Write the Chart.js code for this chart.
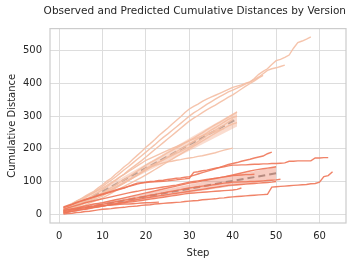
<!DOCTYPE html>
<html>
<head>
<meta charset="utf-8">
<title>Cumulative Distances by Version</title>
<script src="https://cdn.jsdelivr.net/npm/chart.js@4/dist/chart.umd.min.js"></script>
<style>
  body { margin: 0; background: #fff; }
  #wrap { width: 357px; height: 265px; }
</style>
</head>
<body>
<div id="wrap"><canvas id="myChart" width="357" height="265"></canvas></div>
<script>
// ******* DATA ******************
// every run starts at step 1, one value per step

// version A (light lines, the steeper ones)
let runA1 = [18,24,31,40,46,55,63,70,81,90, 101,110,122,133,145,155,168,180,192,205, 216,228,241,252,263,275,287,298,311,322, 330,337,345,352,358,364,370,376,382,388, 392,396,401,405,415,428,437,445,458,470, 474,480,487,508,525,530,536,543];
let runA2 = [12,19,27,34,42,50,58,66,76,85, 95,104,114,125,136,146,157,168,179,190, 201,212,224,235,245,256,267,278,289,300, 310,318,327,336,344,352,360,367,374,380, 386,392,399,405,412,420,430,440,445,448, 452,456];
let runA3 = [10,16,22,29,36,44,51,59,67,75, 84,94,103,113,123,134,144,154,164,175, 186,197,208,219,230,241,252,263,274,285, 294,302,311,319,327,334,342,350,358,365, 374,383,392,400,408,417,425];
let runA4 = [8,14,20,26,33,39,46,52,59,65, 73,81,89,98,106,114,123,132,141,150, 158,165,172,180,188,195,203,210,218,225, 233,241,249,258,266,274,281,289,297,305, 312];
let runA5 = [5,11,17,22,28,34,39,45,50,56, 64,72,80,87,95,103,111,119,127,135, 143,151,159,167,175,183,191,199,207,215, 223,231,240,248,257,265,273,282,290,296, 300];
let runA6 = [12,17,22,28,33,39,44,49,55,60, 68,75,83,90,98,105,113,120,130,140, 147,153,160,166,173,179,186,192,199,205, 213,222,231,240,249,257,265,273,282,290];
let runA7 = [3,8,13,18,23,28,34,39,44,50, 57,64,71,78,85,92,99,106,113,120, 128,136,144,152,160,168,176,184,192,200, 208,216,224,232,240,248,256,263,270,276, 280];
let runA8 = [10,15,20,26,31,37,43,49,55,61, 68,75,82,89,96,104,112,120,128,137, 144,149,153,157,160,162,165,167,170,172, 174,177,179,182,185,188,192,196,199,202];
let runA9 = [20,26,33,40,47,53,60,66,73,80, 88,97,105,114,122,131,139,148,156,165, 171,177,183,189,195,201,207,213,219,225, 230,235,240,245,249,253,258,262];

// version B (darker lines, the flatter ones)
let runB1 = [20,24,29,35,40,44,48,52,56,60, 64,68,72,76,80,85,90,95,96,97, 98,99,100,101,102,104,105,107,108,110, 128,130,133,135,138,141,143,145,148,150, 150,151,151,152,153,153,154,154,155,155, 156,157,162,162,163,163,163,163,172,172, 173,173];
let runB2 = [0,2,3,5,6,8,9,11,13,15, 16,17,19,20,21,23,24,25,27,28, 29,31,32,33,34,35,36,37,39,40, 41,42,44,45,46,47,49,50,52,53, 54,55,56,57,58,59,60,61,83,84, 85,86,87,88,89,90,91,93,94,98, 115,118,130];
let runB3 = [22,27,31,36,40,45,49,53,58,62, 66,70,74,78,81,85,88,92,95,98, 100,101,103,104,106,108,110,111,113,115, 119,123,127,131,135,139,143,148,152,155, 158,162,165,168,172,175,178,185,190];
let runB4 = [10,13,16,19,22,25,28,31,33,35, 38,41,44,47,50,53,56,59,62,65, 68,71,74,77,80,83,86,89,92,95, 97,99,102,104,107,109,112,114,117,120, 123,126,129,132,135,137,139,141,143,145];
let runB5 = [8,10,13,15,18,20,23,25,28,30, 33,35,38,40,43,45,48,50,53,55, 58,60,63,65,68,70,73,75,78,80, 82,84,86,87,89,91,93,95,96,98, 98,99,99,100,100,101,102,103,104,105, 107];
let runB6 = [5,7,9,11,13,15,17,20,22,25, 27,30,32,35,37,40,42,45,47,50, 52,54,56,58,60,62,64,66,68,70, 72,74,76,78,80,82,84,86,88,89, 90,91,92,93,94,95,96,97,98,100];
let runB7 = [12,14,16,17,19,20,22,23,25,26, 27,28,29,30,31,31,32,33,34,35, 35,36,37];
let runB8 = [15,19,23,27,31,35,38,41,44,47, 50,53,56,59,62,65,68,70,73,75, 77,79,81,83,85,87,89,92,95,98, 100,102,104,106,108,110,112,114,116,118, 119,120,121,121,122];
let runB9 = [3,6,9,11,14,16,19,21,23,25, 27,29,31,33,35,37,38,40,42,44, 46,48,50,52,54,56,58,60,62,64, 65,66,67,68,69,70,71,72,73,74, 76,80];

// predicted means with their bands
let predStepsA = [1, 11, 21, 31, 41];
let predA      = [6, 77, 148, 220, 292];
let predLowA   = [2, 68, 135, 200, 268];
let predHighA  = [10, 86, 161, 240, 316];

let predStepsB = [1, 13, 25, 37, 50];
let predB      = [8, 37, 66, 95, 125];
let predLowB   = [3, 29, 55, 80, 105];
let predHighB  = [13, 45, 77, 110, 145];

let xTicks = [0, 10, 20, 30, 40, 50, 60];
let yTicks = [0, 100, 200, 300, 400, 500];

let runsA = [runA1, runA2, runA3, runA4, runA5, runA6, runA7, runA8, runA9];
let runsB = [runB1, runB2, runB3, runB4, runB5, runB6, runB7, runB8, runB9];

const colorA = 'rgba(244,190,163,0.9)';
const colorB = 'rgba(238,118,88,0.9)';

// ******* helpers ******************

// values per step -> {x,y} points
function toPoints(vals){
  let pts = [];
  for(let i = 0; i < vals.length; i++){
    pts.push({x: i + 1, y: vals[i]});
  }
  return pts;
}

function zipPoints(steps, vals){
  return steps.map((s, i) => ({x: s, y: vals[i]}));
}

function runLine(vals, color){
  return {
    data: toPoints(vals),
    borderColor: color,
    borderWidth: 1.4,
    pointRadius: 0,
    tension: 0,
    fill: false
  };
}

let datasets = [];

// dark runs first, light ones above
for(let i = 0; i < runsB.length; i++){
  datasets.push(runLine(runsB[i], colorB));
}
for(let i = 0; i < runsA.length; i++){
  datasets.push(runLine(runsA[i], colorA));
}

// bands : low line (invisible) then high line filled down to it
function addBand(steps, low, high, fillColor){
  datasets.push({
    data: zipPoints(steps, low),
    borderWidth: 0,
    pointRadius: 0,
    fill: false
  });
  datasets.push({
    data: zipPoints(steps, high),
    borderWidth: 0,
    pointRadius: 0,
    backgroundColor: fillColor,
    fill: '-1'
  });
}
addBand(predStepsA, predLowA, predHighA, 'rgba(243,178,148,0.45)');
addBand(predStepsB, predLowB, predHighB, 'rgba(236,128,100,0.4)');

// dashed predicted means
function predLine(steps, vals){
  return {
    data: zipPoints(steps, vals),
    borderColor: 'rgba(135,135,135,0.9)',
    borderWidth: 2,
    borderDash: [7, 4],
    pointRadius: 0,
    tension: 0,
    fill: false
  };
}
datasets.push(predLine(predStepsA, predA));
datasets.push(predLine(predStepsB, predB));

// box around the plot area, like the matplotlib frame
const framePlugin = {
  id: 'frame',
  beforeDatasetsDraw(chart){
    const a = chart.chartArea;
    const ctx = chart.ctx;
    ctx.save();
    ctx.strokeStyle = '#cccccc';
    ctx.lineWidth = 1.2;
    ctx.strokeRect(a.left, a.top, a.right - a.left, a.bottom - a.top);
    ctx.restore();
  }
};

const font = "'DejaVu Sans', sans-serif";

const config = {
  type: 'line',
  data: { datasets: datasets },
  options: {
    responsive: false,
    animation: false,
    layout: { padding: { left: 0, right: 11, top: 0, bottom: 0 } },
    plugins: {
      legend: { display: false },
      tooltip: { enabled: false },
      title: {
        display: true,
        align: 'end',
        text: 'Observed and Predicted Cumulative Distances by Version',
        color: '#262626',
        font: { family: font, size: 10.5, weight: 'normal' },
        padding: { top: 5, bottom: 11 }
      }
    },
    scales: {
      x: {
        type: 'linear',
        min: -2.1,
        max: 66.1,
        afterBuildTicks: (scale) => { scale.ticks = xTicks.map(v => ({value: v})); },
        afterFit: (scale) => { scale.height = 42; },
        grid: { color: '#dddddd', lineWidth: 1, drawTicks: false },
        border: { display: false },
        ticks: { color: '#262626', font: { family: font, size: 10 }, padding: 7, maxRotation: 0 },
        title: { display: true, text: 'Step', color: '#262626', font: { family: font, size: 10 }, padding: { top: 2, bottom: 6 } }
      },
      y: {
        type: 'linear',
        min: -27,
        max: 568,
        afterBuildTicks: (scale) => { scale.ticks = yTicks.map(v => ({value: v})); },
        afterFit: (scale) => { scale.width = 50; },
        grid: { color: '#dddddd', lineWidth: 1, drawTicks: false },
        border: { display: false },
        ticks: { color: '#262626', font: { family: font, size: 10 }, padding: 8 },
        title: { display: true, text: 'Cumulative Distance', color: '#262626', font: { family: font, size: 10 }, padding: { top: 6, bottom: 4 } }
      }
    }
  },
  plugins: [framePlugin]
};

let canvasChart = document.getElementById('myChart');
const myChart = new Chart(canvasChart, config);
</script>
</body>
</html>
